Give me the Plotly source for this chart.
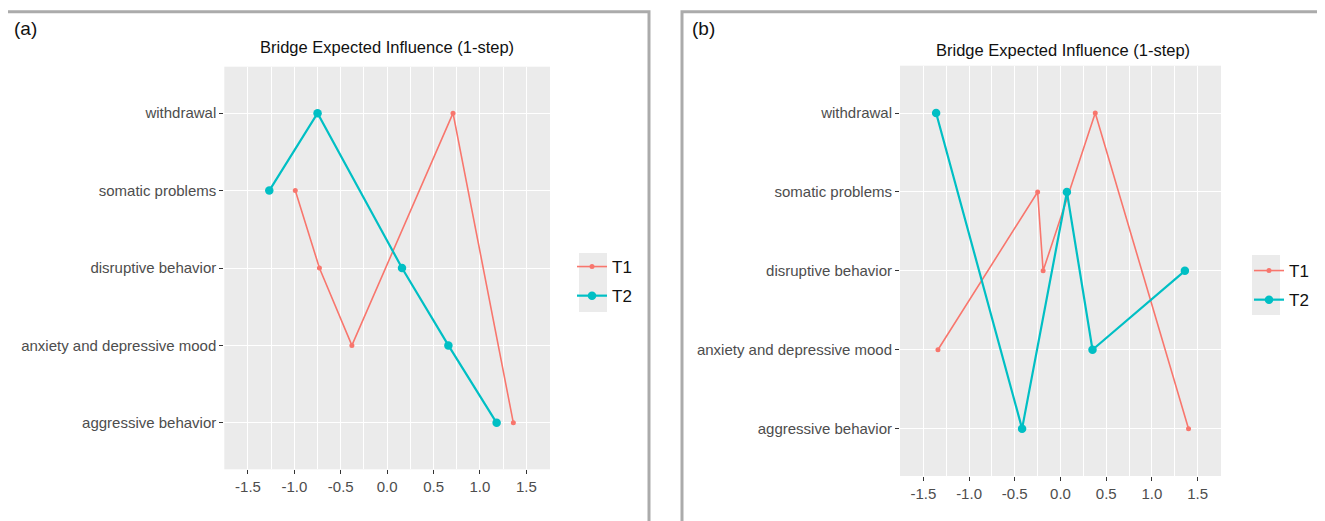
import plotly.graph_objects as go

# The page body has an 8px margin; the figure is sized to fit the window.
OX, OY = 8, 8
W, H = 1325 - OX, 521 - OY

categories = ["withdrawal", "somatic problems", "disruptive behavior",
              "anxiety and depressive mood", "aggressive behavior"]
# bottom-to-top order for the categorical axis
cat_order = ["aggressive behavior", "anxiety and depressive mood",
             "disruptive behavior", "somatic problems", "withdrawal"]

a_T1 = [0.71, -0.99, -0.73, -0.38, 1.36]
a_T2 = [-0.75, -1.27, 0.16, 0.66, 1.18]
b_T1 = [0.38, -0.25, -0.19, -1.34, 1.40]
b_T2 = [-1.36, 0.07, 1.36, 0.35, -0.42]

x_ticks = [-1.5, -1.0, -0.5, 0.0, 0.5, 1.0, 1.5]
x_ticktext = ["-1.5", "-1.0", "-0.5", "0.0", "0.5", "1.0", "1.5"]

RED = "#F8766D"
CYAN = "#00BFC4"
FONT = "Liberation Sans, Arial, sans-serif"


def px(xp):
    return (xp - OX) / W


def py(yp):
    return 1 - (yp - OY) / H


def sorted_pts(vals):
    pairs = sorted(zip(vals, categories), key=lambda p: p[0])
    return [p[0] for p in pairs], [p[1] for p in pairs]


fig = go.Figure()

panels = [
    dict(T1=a_T1, T2=a_T2, xa="x", ya="y", legend="legend"),
    dict(T1=b_T1, T2=b_T2, xa="x2", ya="y2", legend="legend2"),
]
for p in panels:
    x1, y1 = sorted_pts(p["T1"])
    fig.add_trace(go.Scatter(x=x1, y=y1, mode="lines+markers", name="T1",
                             line=dict(color=RED, width=1.6),
                             marker=dict(color=RED, size=5),
                             xaxis=p["xa"], yaxis=p["ya"], legend=p["legend"],
                             legendgroup="T1"))
    x2, y2 = sorted_pts(p["T2"])
    fig.add_trace(go.Scatter(x=x2, y=y2, mode="lines+markers", name="T2",
                             line=dict(color=CYAN, width=2.2),
                             marker=dict(color=CYAN, size=8.5),
                             xaxis=p["xa"], yaxis=p["ya"], legend=p["legend"],
                             legendgroup="T2"))

xcommon = dict(range=[-1.755, 1.755], tickvals=x_ticks, ticktext=x_ticktext,
               showgrid=True, gridcolor="white", gridwidth=1.4,
               zeroline=False, showline=False,
               ticks="outside", ticklen=4, tickwidth=1.3, tickcolor="#333333",
               tickfont=dict(family=FONT, size=15, color="#4D4D4D"),
               minor=dict(showgrid=True, gridcolor="white", gridwidth=0.6,
                          tickvals=[-1.75, -1.25, -0.75, -0.25, 0.25, 0.75, 1.25, 1.75]),
               fixedrange=True)
ycommon = dict(type="category", categoryorder="array", categoryarray=cat_order,
               range=[-0.6, 4.6],
               showgrid=True, gridcolor="white", gridwidth=1.4,
               zeroline=False, showline=False,
               ticks="outside", ticklen=4, tickwidth=1.3, tickcolor="#333333",
               tickfont=dict(family=FONT, size=15, color="#4D4D4D"),
               fixedrange=True)

fig.update_layout(
    width=W, height=H,
    margin=dict(l=0, r=0, t=0, b=0),
    paper_bgcolor="white",
    plot_bgcolor="#EBEBEB",
    font=dict(family=FONT),
    xaxis=dict(domain=[px(224.3), px(550)], anchor="y", **xcommon),
    yaxis=dict(domain=[py(469.3), py(66.7)], anchor="x", **ycommon),
    xaxis2=dict(domain=[px(900), px(1221)], anchor="y2", **xcommon),
    yaxis2=dict(domain=[py(476), py(65.7)], anchor="x2", **ycommon),
    legend=dict(x=px(572), y=py(249), xanchor="left", yanchor="top",
                bgcolor="rgba(0,0,0,0)", traceorder="grouped", tracegroupgap=4,
                font=dict(family=FONT, size=17, color="#111111")),
    legend2=dict(x=px(1249), y=py(253), xanchor="left", yanchor="top",
                 bgcolor="rgba(0,0,0,0)", traceorder="grouped", tracegroupgap=4,
                 font=dict(family=FONT, size=17, color="#111111")),
    showlegend=True,
)

shapes = [
    # panel borders
    dict(type="rect", xref="paper", yref="paper", x0=px(6), x1=px(649),
         y0=-0.1, y1=py(11.7), line=dict(color="#ABABAB", width=3), layer="below"),
    dict(type="rect", xref="paper", yref="paper", x0=px(682), x1=px(1340),
         y0=-0.1, y1=py(11.7), line=dict(color="#ABABAB", width=3), layer="below"),
    # legend key backgrounds
    dict(type="rect", xref="paper", yref="paper", x0=px(579), x1=px(607),
         y0=py(312), y1=py(253), fillcolor="#EBEBEB", line=dict(width=0), layer="below"),
    dict(type="rect", xref="paper", yref="paper", x0=px(1252), x1=px(1280),
         y0=py(315), y1=py(255), fillcolor="#EBEBEB", line=dict(width=0), layer="below"),
]
fig.update_layout(shapes=shapes)

annotations = [
    dict(text="(a)", x=px(12), y=py(28), xref="paper", yref="paper",
         xanchor="left", yanchor="middle", showarrow=False,
         font=dict(family=FONT, size=19, color="#111111")),
    dict(text="(b)", x=px(690), y=py(28), xref="paper", yref="paper",
         xanchor="left", yanchor="middle", showarrow=False,
         font=dict(family=FONT, size=19, color="#111111")),
    dict(text="Bridge Expected Influence (1-step)", x=px(387), y=py(47),
         xref="paper", yref="paper", xanchor="center", yanchor="middle",
         showarrow=False, font=dict(family=FONT, size=16.5, color="#111111")),
    dict(text="Bridge Expected Influence (1-step)", x=px(1063), y=py(50),
         xref="paper", yref="paper", xanchor="center", yanchor="middle",
         showarrow=False, font=dict(family=FONT, size=16.5, color="#111111")),
]
fig.update_layout(annotations=annotations)

fig.write_html("out.html")
